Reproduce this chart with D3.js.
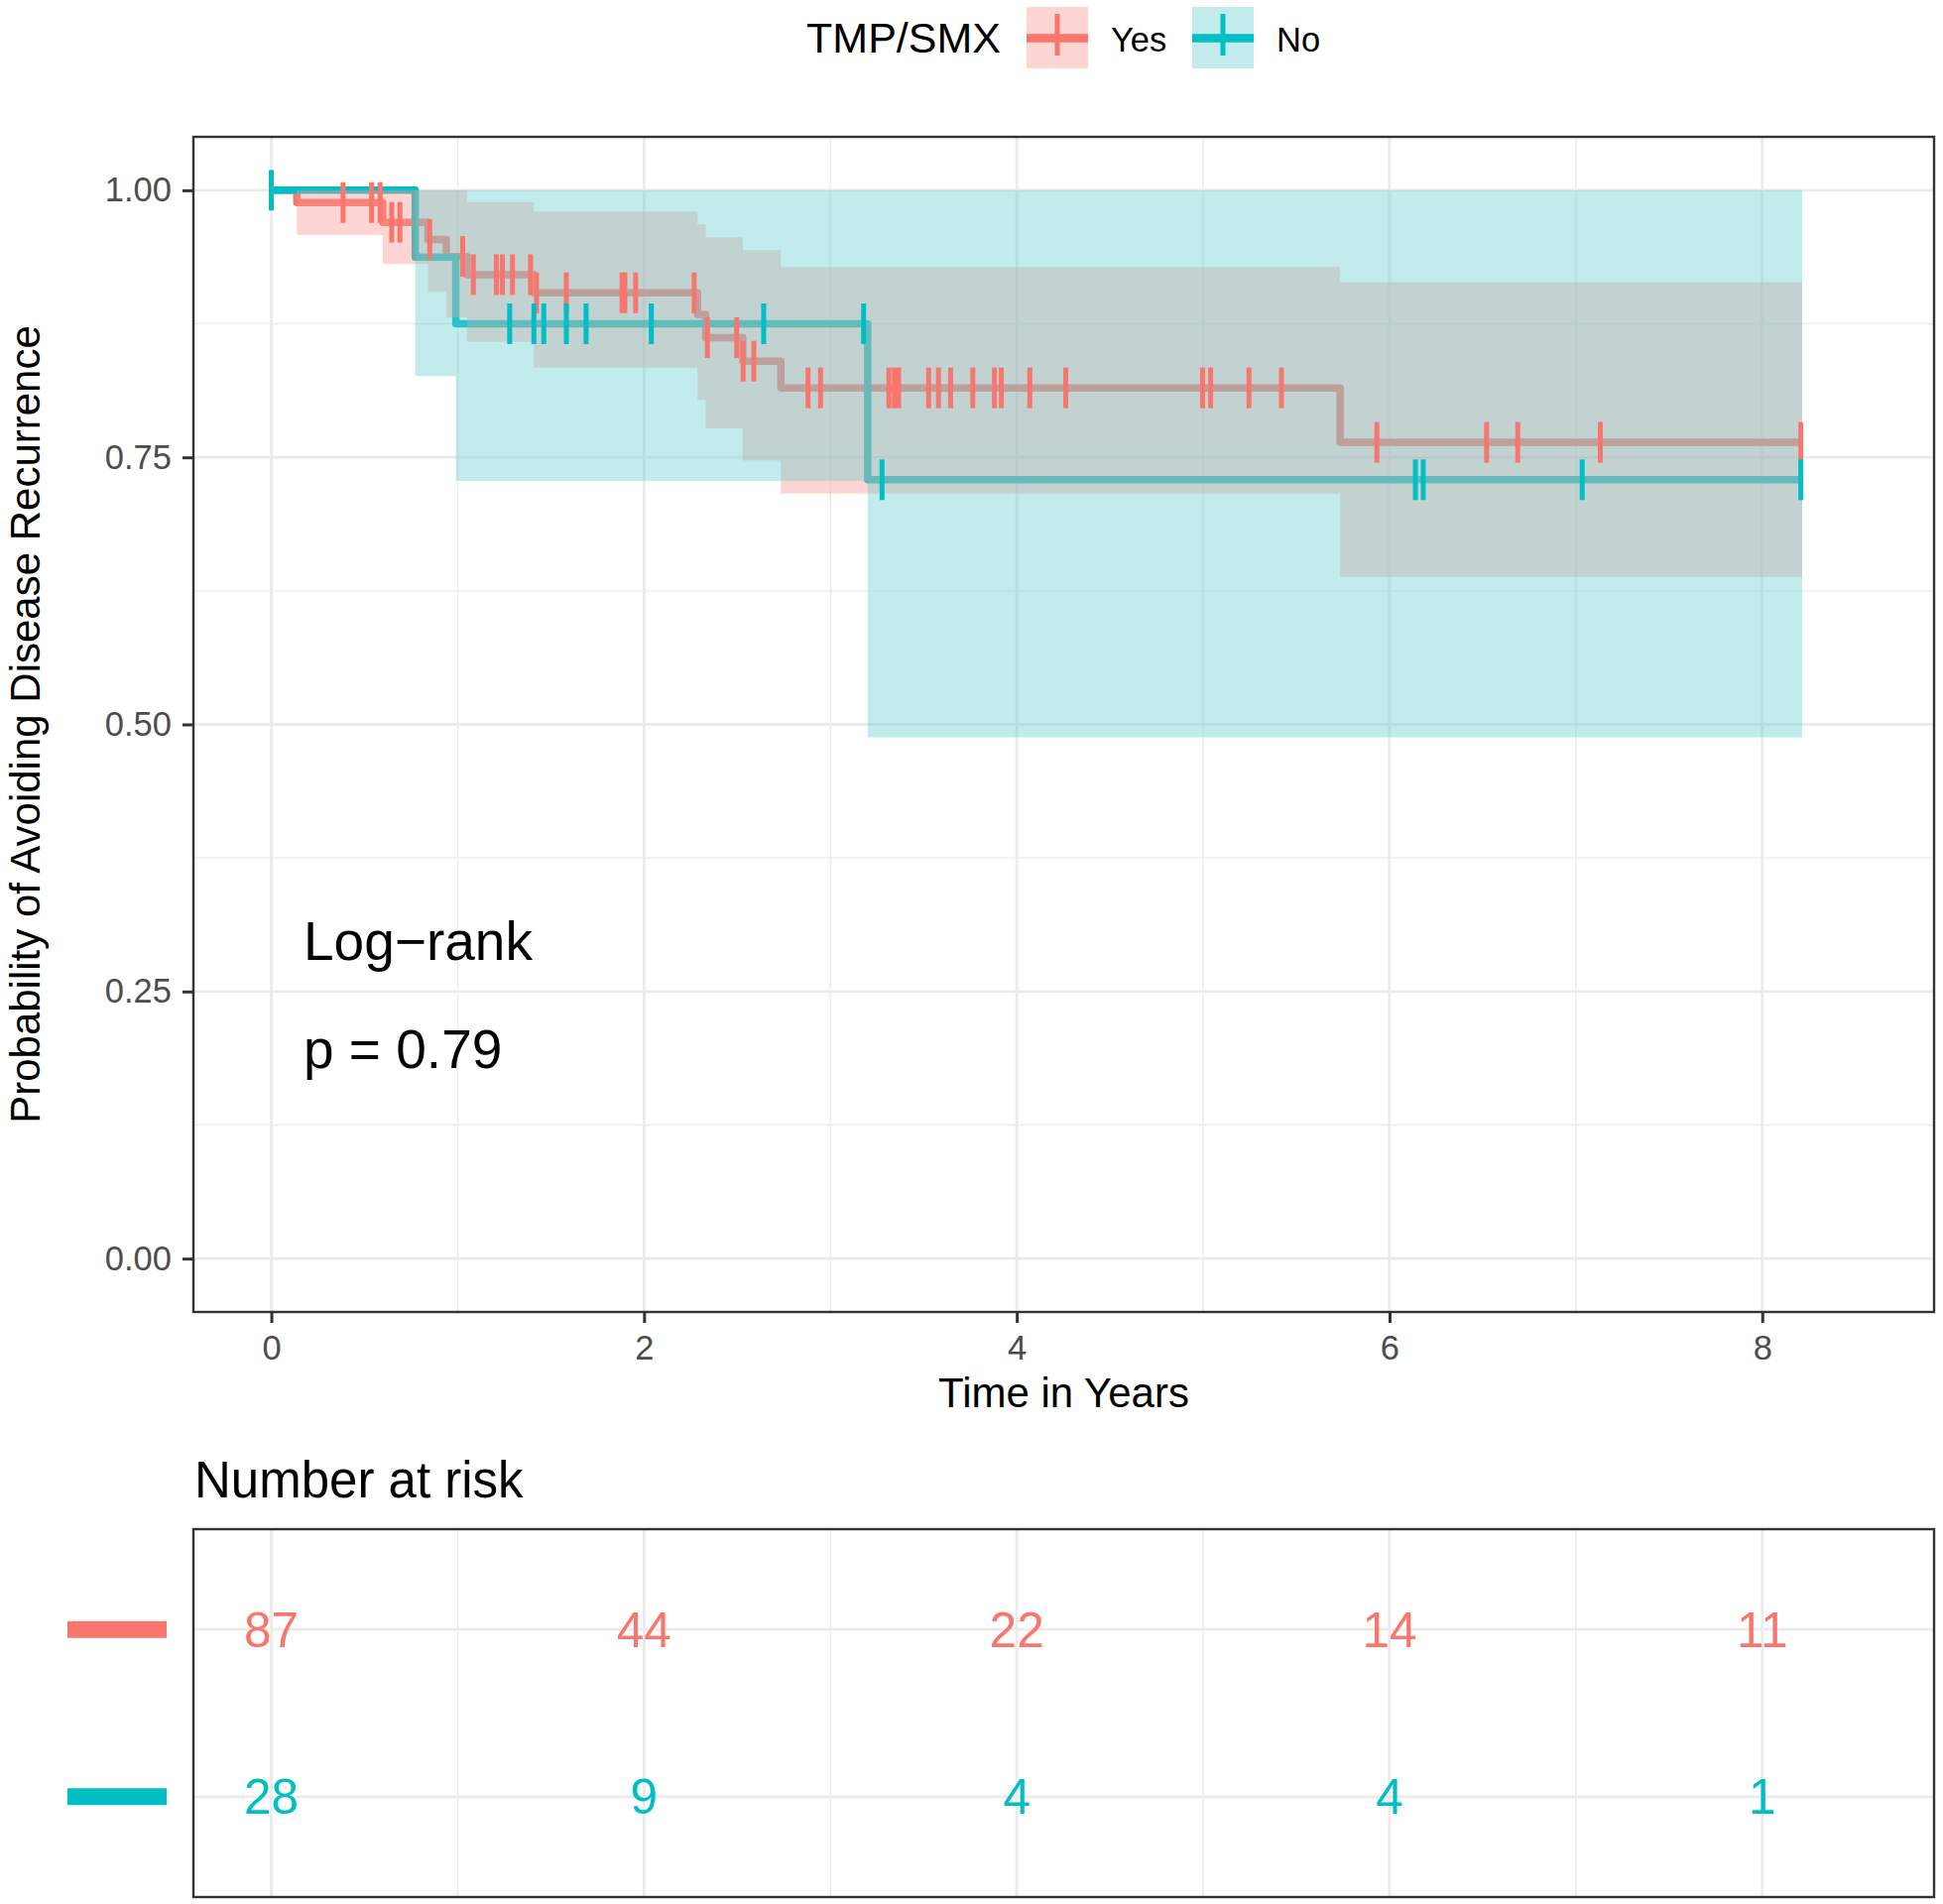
<!DOCTYPE html>
<html>
<head>
<meta charset="utf-8">
<script src="https://cdn.jsdelivr.net/npm/d3@7"></script>
<style>
  html, body { margin: 0; padding: 0; background: #ffffff; }
  svg { display: block; font-family: "Liberation Sans", Arial, Helvetica, sans-serif; }
</style>
</head>
<body>
<svg id="chart" width="1959" height="1920"></svg>
<script>
// ---------------- DATA ----------------
const groupNames = ["Yes", "No"];
const legendTitle = "TMP/SMX";

// Kaplan–Meier steps, group "Yes"
const yesTime  = [0, 0.137, 0.598, 0.841, 0.939, 1.05, 1.409, 2.287, 2.331, 2.53, 2.734, 5.735];
const yesSurv  = [1, 0.9885, 0.970, 0.954, 0.938, 0.921, 0.904, 0.8835, 0.862, 0.840, 0.815, 0.764];
const yesLower = [1, 0.958, 0.931, 0.905, 0.881, 0.858, 0.834, 0.804, 0.777, 0.747, 0.716, 0.638];
const yesUpper = [1, 1, 1, 1, 1, 0.989, 0.980, 0.968, 0.956, 0.944, 0.928, 0.914];
const yesCensor = [0.385, 0.538, 0.584, 0.646, 0.690, 0.850, 1.027, 1.084, 1.208, 1.240, 1.294,
  1.391, 1.423, 1.583, 1.882, 1.897, 1.955, 2.269, 2.340, 2.497, 2.532, 2.589, 2.880, 2.947,
  3.314, 3.343, 3.366, 3.527, 3.580, 3.645, 3.764, 3.880, 3.917, 4.070, 4.263, 4.997, 5.040,
  5.246, 5.420, 5.932, 6.521, 6.688, 7.131, 8.207];

// Kaplan–Meier steps, group "No"
const noTime  = [0, 0.772, 0.99, 3.2];
const noSurv  = [1, 0.9375, 0.875, 0.729];
const noLower = [1, 0.826, 0.728, 0.488];
const noUpper = [1, 1, 1, 1];
const noCensor = [0, 1.279, 1.409, 1.462, 1.583, 1.689, 2.039, 2.642, 3.178, 3.277,
  6.139, 6.181, 7.034, 8.207];

const endTime = 8.214;

// Number at risk
const riskTimes = [0, 2, 4, 6, 8];
const riskYes = [87, 44, 22, 14, 11];
const riskNo  = [28, 9, 4, 4, 1];

// Axis ticks
const xTicks = [0, 2, 4, 6, 8];
const xMinor = [1, 3, 5, 7];
const yTicks = [0, 0.25, 0.5, 0.75, 1];
const yMinor = [0.125, 0.375, 0.625, 0.875];

const xTitle = "Time in Years";
const yTitle = "Probability of Avoiding Disease Recurrence";
const testName = "Log\u2212rank";
const pText = "p = 0.79";
const riskTitle = "Number at risk";

// ---------------- STYLE ----------------
const lineCol = { Yes: "#F8766D", No: "#00BFC4" };
const bandCol = { Yes: "rgb(250,152,145)", No: "rgb(102,205,207)" };
const bandAlpha = 0.4;

const P = { l: 195, t: 138, r: 1950, b: 1323 };
const R = { l: 195, t: 1542, r: 1950, b: 1913 };

const svg = d3.select("#chart");
const x = d3.scaleLinear().domain([-0.418, 8.922]).range([P.l, P.r]);
const y = d3.scaleLinear().domain([-0.05, 1.05]).range([P.b, P.t]);

function build(times, surv, lo, hi) {
  const pts = times.map((t, i) => ({ t, s: surv[i], lo: lo[i], hi: hi[i] }));
  const last = pts[pts.length - 1];
  pts.push({ t: endTime, s: last.s, lo: last.lo, hi: last.hi });
  return pts;
}
function stepVal(times, vals, t) {
  let v = vals[0];
  for (let i = 0; i < times.length; i++) if (times[i] <= t) v = vals[i];
  return v;
}
const series = {
  Yes: { pts: build(yesTime, yesSurv, yesLower, yesUpper), censor: yesCensor, times: yesTime, surv: yesSurv },
  No:  { pts: build(noTime, noSurv, noLower, noUpper), censor: noCensor, times: noTime, surv: noSurv }
};

// ---------------- MAIN PANEL ----------------
const grid = svg.append("g");
grid.selectAll(".xm").data(xMinor).join("line")
  .attr("x1", d => x(d)).attr("x2", d => x(d)).attr("y1", P.t).attr("y2", P.b)
  .attr("stroke", "#EBEBEB").attr("stroke-width", 1.4);
grid.selectAll(".ym").data(yMinor).join("line")
  .attr("y1", d => y(d)).attr("y2", d => y(d)).attr("x1", P.l).attr("x2", P.r)
  .attr("stroke", "#EBEBEB").attr("stroke-width", 1.4);
grid.selectAll(".xM").data(xTicks).join("line")
  .attr("x1", d => x(d)).attr("x2", d => x(d)).attr("y1", P.t).attr("y2", P.b)
  .attr("stroke", "#EBEBEB").attr("stroke-width", 2.8);
grid.selectAll(".yM").data(yTicks).join("line")
  .attr("y1", d => y(d)).attr("y2", d => y(d)).attr("x1", P.l).attr("x2", P.r)
  .attr("stroke", "#EBEBEB").attr("stroke-width", 2.8);

const lineGen = d3.line().x(d => x(d.t)).y(d => y(d.s)).curve(d3.curveStepAfter);
const areaGen = d3.area().x(d => x(d.t)).y0(d => y(d.lo)).y1(d => y(d.hi)).curve(d3.curveStepAfter);

// survival lines (under the bands, as in the reference)
groupNames.forEach(g => {
  svg.append("path").datum(series[g].pts).attr("d", lineGen)
    .attr("fill", "none").attr("stroke", lineCol[g]).attr("stroke-width", 7.5)
    .attr("stroke-linejoin", "round");
});
// confidence bands
groupNames.forEach(g => {
  svg.append("path").datum(series[g].pts).attr("d", areaGen)
    .attr("fill", bandCol[g]).attr("fill-opacity", bandAlpha).attr("stroke", "none");
});
// censor marks
groupNames.forEach(g => {
  const s = series[g];
  svg.append("g").selectAll("line").data(s.censor).join("line")
    .attr("x1", d => x(d)).attr("x2", d => x(d))
    .attr("y1", d => y(stepVal(s.times, s.surv, d)) - 20.5)
    .attr("y2", d => y(stepVal(s.times, s.surv, d)) + 20.5)
    .attr("stroke", lineCol[g]).attr("stroke-width", 5);
});

// test annotation
svg.append("text").attr("x", 306).attr("y", 968).attr("font-size", 55).attr("fill", "#000").text(testName);
svg.append("text").attr("x", 306).attr("y", 1077).attr("font-size", 55).attr("fill", "#000").text(pText);

// panel border
svg.append("rect").attr("x", P.l).attr("y", P.t).attr("width", P.r - P.l).attr("height", P.b - P.t)
  .attr("fill", "none").attr("stroke", "#333333").attr("stroke-width", 2.4);

// axes
const yAxis = svg.append("g").attr("transform", `translate(${P.l},0)`)
  .call(d3.axisLeft(y).tickValues(yTicks).tickFormat(d3.format(".2f")).tickSize(11).tickPadding(11));
const xAxis = svg.append("g").attr("transform", `translate(0,${P.b})`)
  .call(d3.axisBottom(x).tickValues(xTicks).tickFormat(d3.format("d")).tickSize(11).tickPadding(13));
[yAxis, xAxis].forEach(a => {
  a.select(".domain").remove();
  a.selectAll(".tick line").attr("stroke", "#333333").attr("stroke-width", 3);
  a.selectAll(".tick text").attr("fill", "#4D4D4D").attr("font-size", 34.5)
    .attr("font-family", "'Liberation Sans', Arial, Helvetica, sans-serif");
});

svg.append("text").attr("x", (P.l + P.r) / 2).attr("y", 1419).attr("text-anchor", "middle")
  .attr("font-size", 42).attr("fill", "#000").text(xTitle);
svg.append("text").attr("transform", `translate(40,${(P.t + P.b) / 2}) rotate(-90)`)
  .attr("text-anchor", "middle").attr("font-size", 42).attr("fill", "#000").text(yTitle);

// ---------------- LEGEND ----------------
svg.append("text").attr("x", 1009).attr("y", 53).attr("text-anchor", "end")
  .attr("font-size", 43).attr("fill", "#000").text(legendTitle);
const keyX = { Yes: 1035, No: 1202 };
groupNames.forEach(g => {
  const kx = keyX[g], ky = 7, ks = 62;
  svg.append("rect").attr("x", kx).attr("y", ky).attr("width", ks).attr("height", ks)
    .attr("fill", bandCol[g]).attr("fill-opacity", bandAlpha);
  svg.append("line").attr("x1", kx).attr("x2", kx + ks).attr("y1", ky + ks / 2 + 0.5).attr("y2", ky + ks / 2 + 0.5)
    .attr("stroke", lineCol[g]).attr("stroke-width", 8.5);
  svg.append("line").attr("x1", kx + ks / 2).attr("x2", kx + ks / 2).attr("y1", ky + 7).attr("y2", ky + 49)
    .attr("stroke", lineCol[g]).attr("stroke-width", 5);
  svg.append("text").attr("x", kx + ks + 23).attr("y", 52).attr("font-size", 34.5).attr("fill", "#000").text(g);
});

// ---------------- RISK TABLE ----------------
svg.append("text").attr("x", 196).attr("y", 1510).attr("font-size", 51).attr("fill", "#000").text(riskTitle);
const ry = d3.scaleLinear().domain([0.4, 2.6]).range([R.b, R.t]);
const rowOf = { Yes: 2, No: 1 };
const rg = svg.append("g");
rg.selectAll(".rxm").data(xMinor).join("line")
  .attr("x1", d => x(d)).attr("x2", d => x(d)).attr("y1", R.t).attr("y2", R.b)
  .attr("stroke", "#EBEBEB").attr("stroke-width", 1.4);
rg.selectAll(".rxM").data(xTicks).join("line")
  .attr("x1", d => x(d)).attr("x2", d => x(d)).attr("y1", R.t).attr("y2", R.b)
  .attr("stroke", "#EBEBEB").attr("stroke-width", 2.8);
rg.selectAll(".ryM").data(groupNames).join("line")
  .attr("y1", d => ry(rowOf[d])).attr("y2", d => ry(rowOf[d])).attr("x1", R.l).attr("x2", R.r)
  .attr("stroke", "#EBEBEB").attr("stroke-width", 2.8);

const riskVals = { Yes: riskYes, No: riskNo };
groupNames.forEach(g => {
  svg.append("g").selectAll("text").data(riskTimes).join("text")
    .attr("x", d => x(d)).attr("y", d => ry(rowOf[g]) + 17.5)
    .attr("text-anchor", "middle").attr("font-size", 49.5).attr("fill", lineCol[g])
    .text((d, i) => riskVals[g][i]);
  svg.append("line").attr("x1", 68).attr("x2", 168)
    .attr("y1", ry(rowOf[g])).attr("y2", ry(rowOf[g]))
    .attr("stroke", lineCol[g]).attr("stroke-width", 17);
});
svg.append("rect").attr("x", R.l).attr("y", R.t).attr("width", R.r - R.l).attr("height", R.b - R.t)
  .attr("fill", "none").attr("stroke", "#333333").attr("stroke-width", 2.4);
</script>
</body>
</html>
